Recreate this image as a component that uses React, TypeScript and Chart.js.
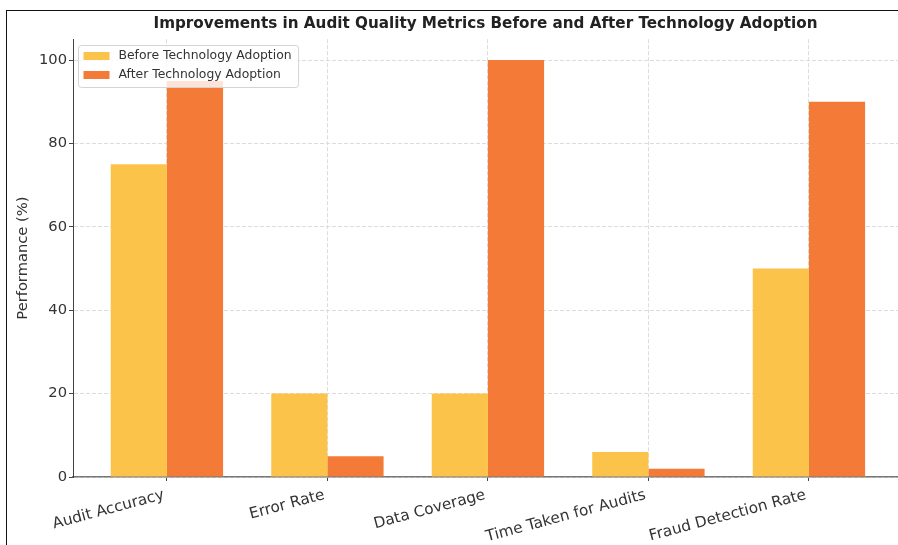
import React, { useEffect, useRef } from 'react';
import { Chart, registerables } from 'chart.js';

Chart.register(...registerables);

const categories = ['Audit Accuracy', 'Error Rate', 'Data Coverage', 'Time Taken for Audits', 'Fraud Detection Rate'];
const beforeValues = [75, 20, 20, 6, 50];
const afterValues = [95, 5, 100, 2, 90];
const seriesLabels = ['Before Technology Adoption', 'After Technology Adoption'];
const seriesColors = ['#FCC34B', '#F47B37'];
const yTickValues = [0, 20, 40, 60, 80, 100];
const titleText = 'Improvements in Audit Quality Metrics Before and After Technology Adoption';
const yAxisTitle = 'Performance (%)';

const FONT = '"DejaVu Sans", Verdana, sans-serif';

const boxLegend = {
  id: 'boxLegend',
  afterDatasetsDraw(chart: any) {
    const { ctx, chartArea } = chart;
    ctx.save();
    ctx.font = `12.4px ${FONT}`;
    const items = chart.data.datasets.map((d: any) => ({ label: d.label, color: d.backgroundColor }));
    const textW = Math.max(...items.map((i: any) => ctx.measureText(i.label).width));
    const x0 = Math.round(chartArea.left + 5) + 0.5;
    const y0 = Math.round(chartArea.top + 6) + 0.5;
    const w = 40 + textW + 7;
    const h = 42;
    ctx.beginPath();
    if (ctx.roundRect) ctx.roundRect(x0, y0, w, h, 3);
    else ctx.rect(x0, y0, w, h);
    ctx.fillStyle = 'rgba(255,255,255,0.8)';
    ctx.fill();
    ctx.strokeStyle = '#d4d4d4';
    ctx.lineWidth = 1;
    ctx.stroke();
    items.forEach((it: any, i: number) => {
      const cy = y0 + 10.5 + i * 19;
      ctx.fillStyle = it.color;
      ctx.fillRect(x0 + 5, cy - 4, 26, 8);
      ctx.fillStyle = '#333';
      ctx.textBaseline = 'middle';
      ctx.textAlign = 'left';
      ctx.fillText(it.label, x0 + 40, cy);
    });
    ctx.restore();
  },
};

export default function App() {
  const canvasRef = useRef<HTMLCanvasElement | null>(null);

  useEffect(() => {
    const canvas = canvasRef.current;
    if (!canvas) return;
    const chart = new Chart(canvas, {
      type: 'bar',
      data: {
        datasets: [
          {
            label: seriesLabels[0],
            data: beforeValues.map((v, i) => ({ x: i, y: v })),
            backgroundColor: seriesColors[0],
            borderWidth: 0,
          },
          {
            label: seriesLabels[1],
            data: afterValues.map((v, i) => ({ x: i, y: v })),
            backgroundColor: seriesColors[1],
            borderWidth: 0,
          },
        ],
      },
      options: {
        responsive: false,
        animation: false,
        devicePixelRatio: 1,
        layout: { padding: { left: 0, right: 0, top: 0, bottom: 0 } },
        datasets: {
          bar: { categoryPercentage: 0.7, barPercentage: 1.0 },
        },
        plugins: {
          legend: { display: false },
          tooltip: { enabled: false },
          title: {
            display: true,
            text: titleText,
            fullSize: false,
            color: '#222',
            font: { family: FONT, size: 15.2, weight: 'bold' },
            padding: { top: 15, bottom: 6 },
          },
        },
        scales: {
          x: {
            type: 'linear',
            offset: false,
            min: -0.585,
            max: 4.555,
            afterFit: (s: any) => {
              s.height = 68;
            },
            afterBuildTicks: (s: any) => {
              s.ticks = categories.map((_, i) => ({ value: i }));
            },
            ticks: {
              stepSize: 1,
              includeBounds: false,
              autoSkip: false,
              minRotation: 15,
              maxRotation: 15,
              padding: 5,
              labelOffset: -3,
              color: '#333',
              font: { family: FONT, size: 15.3 },
              callback: (value: any) => categories[Math.round(Number(value))] ?? '',
            },
            grid: {
              offset: false,
              color: '#dcdcdc',
              lineWidth: 1,
              drawTicks: true,
              tickLength: 4,
              tickColor: '#444',
            },
            border: { display: true, color: '#777', width: 1.5, dash: [4, 2] },
          },
          y: {
            type: 'linear',
            min: 0,
            max: 105,
            afterFit: (s: any) => {
              s.width = 73;
            },
            afterBuildTicks: (s: any) => {
              s.ticks = yTickValues.map((v) => ({ value: v }));
            },
            ticks: {
              stepSize: 20,
              includeBounds: false,
              padding: 2,
              color: '#333',
              font: { family: FONT, size: 14.7 },
            },
            title: {
              display: true,
              text: yAxisTitle,
              color: '#333',
              font: { family: FONT, size: 14.7 },
              padding: { top: 14, bottom: 0 },
            },
            grid: {
              color: '#dcdcdc',
              lineWidth: 1,
              drawTicks: true,
              tickLength: 4,
              tickColor: '#444',
            },
            border: { display: true, color: '#444', width: 1, dash: [4, 2] },
          },
        },
      },
      plugins: [boxLegend],
    } as any);
    return () => chart.destroy();
  }, []);

  return (
    <div
      style={{
        position: 'fixed',
        left: 0,
        top: 0,
        width: 898,
        height: 545,
        overflow: 'hidden',
        background: '#fff',
      }}
    >
      <canvas ref={canvasRef} width={898} height={545} style={{ display: 'block', width: 898, height: 545 }} />
      <div
        style={{
          position: 'absolute',
          left: 6,
          top: 10,
          width: 2000,
          height: 2000,
          borderTop: '1px solid #111',
          borderLeft: '1px solid #111',
          pointerEvents: 'none',
        }}
      />
    </div>
  );
}
